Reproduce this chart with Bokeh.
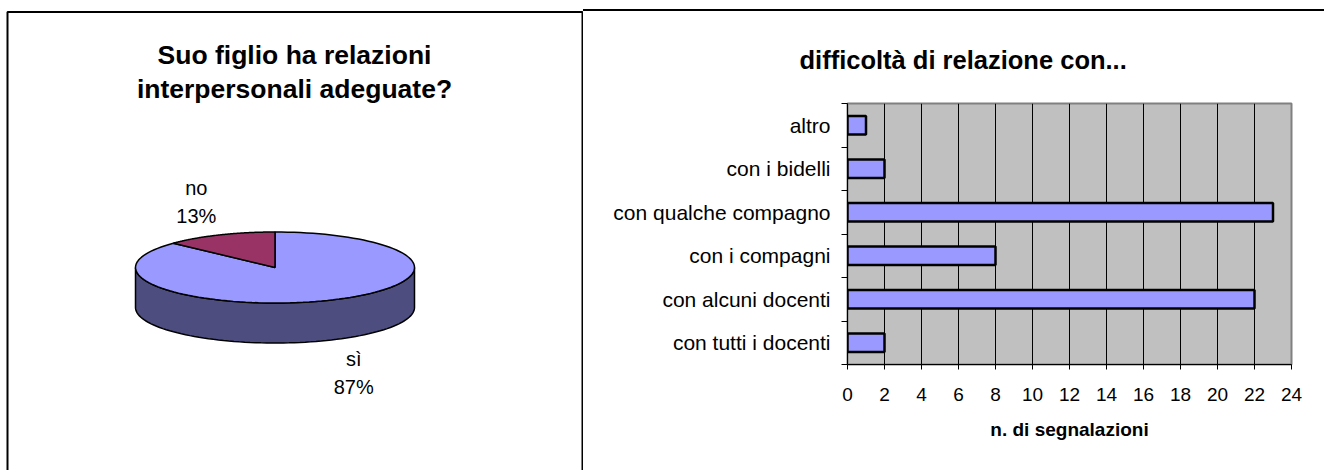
import numpy as np
from bokeh.plotting import figure
from bokeh.layouts import row
from bokeh.models import Range1d, FixedTicker, BoxAnnotation, Title
from bokeh.core.properties import value
from bokeh.embed import file_html
from bokeh.resources import INLINE

FONT = "Liberation Sans"

# ---------------- data ----------------
pie_title = ["Suo figlio ha relazioni", "interpersonali adeguate?"]
pie_labels = ["sì", "no"]
pie_values = [87, 13]
pie_colors = ["#9999FF", "#993366"]
pie_side_colors = ["#4D4D80", "#4D1A33"]

bar_title = "difficoltà di relazione con..."
bar_categories = ["con tutti i docenti", "con alcuni docenti", "con i compagni",
                  "con qualche compagno", "con i bidelli", "altro"]
bar_values = [2, 22, 8, 23, 2, 1]
x_ticks = list(range(0, 25, 2))
x_title = "n. di segnalazioni"

# ---------------- left: 3D pie ----------------
W1, H = 583, 470
p1 = figure(width=W1, height=H, x_range=Range1d(0, W1), y_range=Range1d(0, H),
            output_backend="svg", toolbar_location=None, min_border=0,
            x_axis_location=None, y_axis_location=None)
p1.frame_align = False
p1.grid.visible = False
p1.outline_line_color = None
p1.background_fill_color = "white"
p1.border_fill_color = "white"

p1.add_layout(BoxAnnotation(left=7, right=582, top=458.5, bottom=-50,
                            fill_color=None, fill_alpha=0, line_color="black",
                            line_alpha=1.0, line_width=2))

p1.text(x=[294, 294], y=[416, 382], text=pie_title, text_font=value(FONT),
        text_font_style="bold", text_font_size="26.5px", text_align="center",
        text_baseline="middle", text_color="black")

cx, cy, rx, ry, depth = 274.5, 203.0, 139.5, 35.5, 40.0
total = float(sum(pie_values))
angles = np.cumsum([0.0] + [v / total * 2 * np.pi for v in pie_values])

# side walls (front half only)
side_xs, side_ys, side_cols = [], [], []
for i in range(len(pie_values)):
    a0, a1 = angles[i], angles[i + 1]
    lo, hi = max(a0, np.pi / 2), min(a1, 3 * np.pi / 2)
    if hi > lo:
        ph = np.linspace(lo, hi, 80)
        tx = cx + rx * np.sin(ph)
        ty = cy + ry * np.cos(ph)
        side_xs.append(list(tx) + list(tx[::-1]))
        side_ys.append(list(ty) + list((ty - depth)[::-1]))
        side_cols.append(pie_side_colors[i])
p1.patches(xs=side_xs, ys=side_ys, fill_color=side_cols, line_color="black", line_width=1.5)

# top faces
top_xs, top_ys = [], []
for i in range(len(pie_values)):
    ph = np.linspace(angles[i], angles[i + 1], 120)
    top_xs.append([cx] + list(cx + rx * np.sin(ph)) + [cx])
    top_ys.append([cy] + list(cy + ry * np.cos(ph)) + [cy])
p1.patches(xs=top_xs, ys=top_ys, fill_color=pie_colors, line_color="black", line_width=1.5)

# labels
lx, ly_name, ly_pct, pct_txt = [], [], [], []
for i in range(len(pie_values)):
    mid = (angles[i] + angles[i + 1]) / 2
    x = cx + 1.42 * rx * np.sin(mid)
    y = cy + 2.0 * ry * np.cos(mid) - (depth if np.cos(mid) < 0 else 0)
    lx.append(x)
    ly_name.append(y + 14)
    ly_pct.append(y - 14)
    pct_txt.append(f"{round(pie_values[i] / total * 100)}%")
p1.text(x=lx, y=ly_name, text=pie_labels, text_font=value(FONT), text_font_size="20px",
        text_align="center", text_baseline="middle", text_color="black")
p1.text(x=lx, y=ly_pct, text=pct_txt, text_font=value(FONT), text_font_size="20px",
        text_align="center", text_baseline="middle", text_color="black")

# ---------------- right: horizontal bars ----------------
W2 = 741
p2 = figure(width=W2, height=459, x_range=Range1d(0, 24), y_range=Range1d(0, len(bar_categories)),
            output_backend="svg", toolbar_location=None,
            min_border_left=264, min_border_right=33, min_border_top=92, min_border_bottom=106)
p2.frame_align = False
p2.styles = {"margin-top": "9px", "border-top": "2px solid black"}
p2.background_fill_color = "#C0C0C0"
p2.border_fill_color = "white"
p2.outline_line_color = "#808080"
p2.outline_line_width = 2

ypos = [i + 0.5 for i in range(len(bar_categories))]
p2.hbar(y=ypos, left=0, right=bar_values, height=0.42, fill_color="#9999FF",
        line_color="black", line_width=2.5)

p2.ygrid.visible = False
p2.xgrid.ticker = FixedTicker(ticks=x_ticks)
p2.xgrid.grid_line_color = "black"
p2.xgrid.grid_line_width = 1

xa = p2.xaxis[0]
xa.ticker = FixedTicker(ticks=x_ticks)
xa.major_tick_out = 5
xa.major_tick_in = 0
xa.minor_tick_out = 0
xa.minor_tick_in = 0
xa.axis_line_color = "black"
xa.major_tick_line_color = "black"
xa.major_label_text_font = FONT
xa.major_label_text_font_size = "19px"
xa.major_label_text_color = "black"
xa.major_label_standoff = 18
xa.axis_label = x_title
xa.axis_label_text_font = FONT
xa.axis_label_text_font_size = "19px"
xa.axis_label_text_font_style = "bold"
xa.axis_label_text_color = "black"
xa.axis_label_standoff = 15

ya = p2.yaxis[0]
ya.ticker = FixedTicker(ticks=ypos, minor_ticks=list(range(len(bar_categories) + 1)))
ya.major_label_overrides = {y: c for y, c in zip(ypos, bar_categories)}
ya.major_tick_out = 0
ya.major_tick_in = 0
ya.minor_tick_out = 6
ya.minor_tick_in = 0
ya.minor_tick_line_color = "black"
ya.axis_line_color = "black"
ya.major_label_text_font = FONT
ya.major_label_text_font_size = "21px"
ya.major_label_text_color = "black"
ya.major_label_standoff = 11

p2.title = Title(text=bar_title, align="left", offset=-48, standoff=59,
                 text_font=FONT, text_font_size="25.5px", text_font_style="bold",
                 text_color="black")

layout = row(p1, p2)
open("out.html", "w").write(file_html(layout, INLINE))
